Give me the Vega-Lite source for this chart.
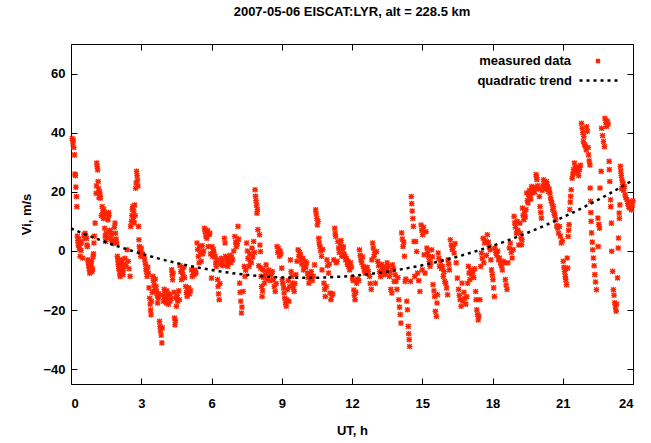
{
  "$schema": "https://vega.github.io/schema/vega-lite/v6.json",
  "width": 562,
  "height": 340,
  "autosize": {"type": "none"},
  "padding": {"left": 71, "top": 44, "right": 18, "bottom": 59},
  "background": "white",
  "config": {
    "font": "Liberation Sans",
    "view": {"stroke": "#000000", "strokeWidth": 1},
    "axis": {
      "domain": false, "grid": false,
      "labelFont": "Liberation Sans", "labelFontSize": 13, "labelFontWeight": "bold", "labelColor": "#000000",
      "titleFont": "Liberation Sans", "titleFontSize": 13, "titleFontWeight": "bold", "titleColor": "#000000",
      "tickColor": "#000000", "tickWidth": 1, "tickSize": -6
    },
    "legend": {"labelFont": "Liberation Sans", "labelFontSize": 13, "labelFontWeight": "bold", "labelColor": "#000000", "labelLimit": 0, "padding": 0, "symbolOffset": 0}
  },
  "title": {"text": "2007-05-06 EISCAT:LYR, alt = 228.5 km", "fontSize": 13, "fontWeight": "bold", "font": "Liberation Sans", "color": "#000000", "anchor": "middle", "offset": 22},
  "datasets": {
    "obs": [
{"t":0.05,"v":38},{"t":0.08,"v":36.5},{"t":0.1,"v":37.5},{"t":0.12,"v":35},{"t":0.15,"v":32.5},{"t":0.17,"v":26},{"t":0.19,"v":25.5},{"t":0.21,"v":21.6},{"t":0.23,"v":18.4},{"t":0.25,"v":15},{"t":0.27,"v":5},{"t":0.29,"v":3.5},{"t":0.31,"v":2},{"t":0.33,"v":4},{"t":0.35,"v":1.2},{"t":0.37,"v":0.5},{"t":0.39,"v":-1.8},{"t":0.41,"v":2.5},{"t":0.43,"v":0.2},{"t":0.45,"v":3},{"t":0.5,"v":-2.4},{"t":0.55,"v":5.5},{"t":0.58,"v":4.5},{"t":0.6,"v":6},{"t":0.63,"v":5},{"t":0.66,"v":4.2},{"t":0.68,"v":2},{"t":0.7,"v":1.5},{"t":0.72,"v":-3},{"t":0.74,"v":-4},{"t":0.76,"v":-5},{"t":0.78,"v":-6},{"t":0.8,"v":-7.5},{"t":0.82,"v":-6.5},{"t":0.84,"v":-4.5},{"t":0.86,"v":-5.5},{"t":0.88,"v":-3.5},{"t":0.9,"v":-7},{"t":0.92,"v":-6},{"t":0.94,"v":-2},{"t":0.96,"v":-1},{"t":0.98,"v":2.7},{"t":1.0,"v":5},{"t":1.03,"v":9.4},
{"t":1.07,"v":19.5},{"t":1.09,"v":22},{"t":1.1,"v":29.7},{"t":1.12,"v":28.5},{"t":1.14,"v":27.4},{"t":1.16,"v":23.5},{"t":1.18,"v":21},{"t":1.2,"v":18},{"t":1.22,"v":20},{"t":1.24,"v":19},{"t":1.26,"v":17.9},{"t":1.3,"v":12},{"t":1.33,"v":15},{"t":1.36,"v":13},{"t":1.38,"v":11},{"t":1.4,"v":14},{"t":1.42,"v":12.5},{"t":1.44,"v":7.7},{"t":1.46,"v":5},{"t":1.48,"v":3.2},{"t":1.5,"v":6},{"t":1.52,"v":4.5},{"t":1.55,"v":11},{"t":1.58,"v":10.5},{"t":1.6,"v":13},{"t":1.62,"v":12},{"t":1.65,"v":7},{"t":1.68,"v":6.5},{"t":1.7,"v":4},{"t":1.72,"v":5.5},{"t":1.75,"v":3.5},{"t":1.8,"v":2.5},{"t":1.85,"v":8},{"t":1.88,"v":9.4},{"t":1.9,"v":6},{"t":1.93,"v":4},{"t":1.96,"v":2.7},{"t":1.98,"v":-1.8},{"t":2.0,"v":-3},
{"t":2.02,"v":-4.5},{"t":2.04,"v":-6},{"t":2.06,"v":-5},{"t":2.08,"v":-7.5},{"t":2.1,"v":-8.6},{"t":2.12,"v":-6.5},{"t":2.14,"v":-4},{"t":2.16,"v":-3},{"t":2.18,"v":-5.5},{"t":2.2,"v":-7},{"t":2.22,"v":-8},{"t":2.24,"v":-6},{"t":2.26,"v":-4.5},{"t":2.3,"v":-2.5},{"t":2.35,"v":-5},{"t":2.4,"v":0.4},{"t":2.44,"v":-3.5},{"t":2.48,"v":-6},{"t":2.52,"v":-8.6},{"t":2.55,"v":8.3},{"t":2.58,"v":10},{"t":2.6,"v":12},{"t":2.62,"v":14},{"t":2.64,"v":15},{"t":2.66,"v":11},{"t":2.68,"v":13.5},{"t":2.7,"v":9.5},{"t":2.72,"v":15.5},{"t":2.74,"v":12},{"t":2.76,"v":21.2},{"t":2.78,"v":23},{"t":2.8,"v":26.9},{"t":2.82,"v":25.5},{"t":2.84,"v":24},{"t":2.86,"v":22},{"t":2.88,"v":8.3},{"t":2.9,"v":3.8},{"t":2.92,"v":1.5},{"t":2.94,"v":0},{"t":2.96,"v":-0.5},{"t":2.98,"v":-1.8},{"t":3.0,"v":1},{"t":3.03,"v":-0.8},{"t":3.06,"v":-1.2},
{"t":3.1,"v":-1.8},{"t":3.15,"v":-3},{"t":3.18,"v":-4.5},{"t":3.2,"v":-6},{"t":3.22,"v":-7},{"t":3.25,"v":-8.6},{"t":3.28,"v":-5.5},{"t":3.3,"v":-7.5},{"t":3.33,"v":-12.5},{"t":3.36,"v":-16},{"t":3.38,"v":-18},{"t":3.4,"v":-20},{"t":3.42,"v":-21.6},{"t":3.44,"v":-17},{"t":3.47,"v":-14},{"t":3.5,"v":-8.6},{"t":3.52,"v":-10},{"t":3.55,"v":-11.5},{"t":3.58,"v":-13},{"t":3.6,"v":-9.5},{"t":3.63,"v":-12},{"t":3.66,"v":-13.7},{"t":3.68,"v":-15},{"t":3.7,"v":-17.6},{"t":3.72,"v":-16},{"t":3.75,"v":-14.5},{"t":3.78,"v":-23.8},{"t":3.8,"v":-25.5},{"t":3.82,"v":-27},{"t":3.85,"v":-28.5},{"t":3.88,"v":-31.1},{"t":3.9,"v":-26},{"t":3.92,"v":-15},{"t":3.95,"v":-17},{"t":3.98,"v":-13},{"t":4.0,"v":-16},{"t":4.03,"v":-14},{"t":4.06,"v":-17.6},{"t":4.08,"v":-15.5},{"t":4.1,"v":-13.5},{"t":4.13,"v":-16.5},{"t":4.16,"v":-18},{"t":4.18,"v":-14.5},
{"t":4.2,"v":-15},{"t":4.23,"v":-17},{"t":4.26,"v":-16},{"t":4.3,"v":-6.4},{"t":4.32,"v":-8},{"t":4.34,"v":-9.7},{"t":4.36,"v":-7.5},{"t":4.4,"v":-14},{"t":4.42,"v":-22.7},{"t":4.44,"v":-25},{"t":4.46,"v":-23.5},{"t":4.48,"v":-16},{"t":4.5,"v":-18.7},{"t":4.53,"v":-15},{"t":4.56,"v":-17},{"t":4.6,"v":-13.5},{"t":4.63,"v":-16.5},{"t":4.66,"v":-5},{"t":4.69,"v":-7},{"t":4.72,"v":-9.7},{"t":4.75,"v":-6.5},{"t":4.78,"v":-8},{"t":4.82,"v":-5.5},{"t":4.85,"v":-9},{"t":4.9,"v":-12},{"t":4.93,"v":-14},{"t":4.96,"v":-15.4},{"t":5.0,"v":-13},{"t":5.03,"v":-12.5},{"t":5.06,"v":-14.5},{"t":5.1,"v":-13.5},
{"t":5.15,"v":-6.4},{"t":5.18,"v":-8.6},{"t":5.22,"v":-7},{"t":5.26,"v":-8},{"t":5.3,"v":-6.5},{"t":5.34,"v":-7.5},{"t":5.38,"v":2.7},{"t":5.41,"v":0.5},{"t":5.44,"v":-1.8},{"t":5.47,"v":-4},{"t":5.5,"v":1.5},{"t":5.53,"v":-0.5},{"t":5.56,"v":-3.5},{"t":5.6,"v":1.8},{"t":5.63,"v":-1},{"t":5.66,"v":0},{"t":5.7,"v":7.7},{"t":5.73,"v":6.5},{"t":5.76,"v":5},{"t":5.8,"v":4.3},{"t":5.83,"v":7},{"t":5.86,"v":1.5},{"t":5.9,"v":5.5},{"t":5.93,"v":6},{"t":5.96,"v":-1},{"t":6.0,"v":-9.2},{"t":6.02,"v":1.5},{"t":6.05,"v":-1.8},{"t":6.08,"v":0.5},{"t":6.1,"v":-0.5},
{"t":6.13,"v":-2},{"t":6.15,"v":-1.8},{"t":6.18,"v":-4},{"t":6.2,"v":-5.2},{"t":6.23,"v":-3},{"t":6.26,"v":-9.7},{"t":6.28,"v":-12},{"t":6.3,"v":-14.5},{"t":6.33,"v":-16.5},{"t":6.36,"v":-11},{"t":6.39,"v":-4.5},{"t":6.42,"v":-2.5},{"t":6.45,"v":-3.5},{"t":6.5,"v":-5},{"t":6.55,"v":4.3},{"t":6.58,"v":2.7},{"t":6.6,"v":-1.8},{"t":6.63,"v":-3},{"t":6.66,"v":-4.5},{"t":6.7,"v":-5.2},{"t":6.73,"v":-2.5},{"t":6.76,"v":-3.8},{"t":6.8,"v":-1.5},{"t":6.83,"v":-4},{"t":6.86,"v":-2},{"t":6.9,"v":-3},{"t":6.95,"v":0},{"t":7.0,"v":4.9},
{"t":7.03,"v":3},{"t":7.06,"v":1.5},{"t":7.1,"v":2.5},{"t":7.13,"v":8.3},{"t":7.16,"v":4},{"t":7.2,"v":-10.9},{"t":7.22,"v":-14},{"t":7.25,"v":-17},{"t":7.28,"v":-21},{"t":7.3,"v":-19},{"t":7.35,"v":-13.7},{"t":7.4,"v":-5.2},{"t":7.43,"v":-8.6},{"t":7.46,"v":-6.5},{"t":7.5,"v":2.7},{"t":7.53,"v":0},{"t":7.56,"v":-2.5},{"t":7.6,"v":-5.2},{"t":7.63,"v":-1},{"t":7.66,"v":-3.5},{"t":7.7,"v":-4},{"t":7.73,"v":1},{"t":7.76,"v":-2},{"t":7.8,"v":3.2},{"t":7.83,"v":-0.5},{"t":7.86,"v":20.7},{"t":7.88,"v":18.5},{"t":7.9,"v":17},{"t":7.92,"v":15.5},{"t":7.94,"v":12.8},{"t":7.96,"v":14},{"t":7.98,"v":7.2},{"t":8.02,"v":-5},{"t":8.05,"v":5.5},{"t":8.07,"v":2},{"t":8.09,"v":-0.2},
{"t":8.1,"v":-5.8},{"t":8.12,"v":-8.6},{"t":8.14,"v":-12},{"t":8.16,"v":-15.4},{"t":8.18,"v":-13.5},{"t":8.2,"v":-6.4},{"t":8.23,"v":-9},{"t":8.26,"v":-10.9},{"t":8.3,"v":-8},{"t":8.33,"v":-4.7},{"t":8.36,"v":-7},{"t":8.4,"v":-9.5},{"t":8.45,"v":-6.5},{"t":8.5,"v":-10},{"t":8.55,"v":-8},{"t":8.6,"v":-7},{"t":8.64,"v":-9.7},{"t":8.68,"v":-12},{"t":8.72,"v":-13.7},{"t":8.76,"v":-11},{"t":8.8,"v":1.5},{"t":8.83,"v":-0.5},{"t":8.86,"v":0.8},{"t":8.9,"v":-1.8},{"t":8.93,"v":0},{"t":8.96,"v":-1},{"t":9.0,"v":-5.8},
{"t":9.02,"v":-9.7},{"t":9.05,"v":-11},{"t":9.08,"v":-12.5},{"t":9.1,"v":-14.2},{"t":9.13,"v":-16},{"t":9.16,"v":-17.5},{"t":9.19,"v":-18.7},{"t":9.22,"v":-16.5},{"t":9.25,"v":-13},{"t":9.28,"v":-10},{"t":9.31,"v":-17},{"t":9.34,"v":-12},{"t":9.37,"v":-3},{"t":9.4,"v":-7},{"t":9.43,"v":-8.6},{"t":9.47,"v":-10.9},{"t":9.5,"v":-12.5},{"t":9.53,"v":-13.7},{"t":9.56,"v":-11},{"t":9.6,"v":-8},{"t":9.65,"v":-3.5},{"t":9.7,"v":0.4},{"t":9.73,"v":-1.8},{"t":9.76,"v":-0.5},{"t":9.8,"v":-1.3},{"t":9.83,"v":-3},{"t":9.86,"v":-4.5},{"t":9.9,"v":-2.5},{"t":9.93,"v":-6.4},{"t":9.96,"v":-5},{"t":10.0,"v":-3.5},
{"t":10.03,"v":-5.5},{"t":10.06,"v":-4},{"t":10.1,"v":-7.5},{"t":10.13,"v":-9},{"t":10.16,"v":-10.9},{"t":10.2,"v":-8},{"t":10.23,"v":-9.5},{"t":10.26,"v":-7},{"t":10.3,"v":-10},{"t":10.35,"v":-8.5},{"t":10.4,"v":-4.7},{"t":10.45,"v":13.9},{"t":10.47,"v":12.5},{"t":10.5,"v":11},{"t":10.52,"v":8.8},{"t":10.55,"v":10},{"t":10.58,"v":4.3},{"t":10.6,"v":2.7},{"t":10.63,"v":1.5},{"t":10.66,"v":0},{"t":10.7,"v":-1.8},{"t":10.72,"v":-6.4},{"t":10.75,"v":0.5},{"t":10.8,"v":-10.9},{"t":10.83,"v":-13},{"t":10.86,"v":-15.4},{"t":10.9,"v":-12},{"t":10.93,"v":-3},{"t":10.96,"v":-5},{"t":11.0,"v":-7.5},
{"t":11.03,"v":-4.5},{"t":11.06,"v":-14.2},{"t":11.1,"v":-16.5},{"t":11.14,"v":-15},{"t":11.18,"v":-14.5},{"t":11.22,"v":-3},{"t":11.26,"v":7.7},{"t":11.28,"v":6},{"t":11.3,"v":4.9},{"t":11.33,"v":-4},{"t":11.36,"v":-3.5},{"t":11.4,"v":3.2},{"t":11.43,"v":1},{"t":11.46,"v":-0.5},{"t":11.5,"v":2},{"t":11.53,"v":3.5},{"t":11.56,"v":-1.8},{"t":11.6,"v":0.5},{"t":11.63,"v":1.5},{"t":11.66,"v":-1},{"t":11.7,"v":-1.8},{"t":11.73,"v":-3},{"t":11.76,"v":-2.5},{"t":11.8,"v":-4.5},{"t":11.83,"v":-3.5},{"t":11.86,"v":-5.2},{"t":11.9,"v":-6.4},{"t":11.94,"v":-4},{"t":11.98,"v":-5.5},
{"t":12.02,"v":-9.2},{"t":12.05,"v":-10},{"t":12.08,"v":-13.2},{"t":12.1,"v":-15},{"t":12.13,"v":-16.5},{"t":12.16,"v":-14},{"t":12.2,"v":-10.9},{"t":12.24,"v":-9.5},{"t":12.28,"v":-10},{"t":12.32,"v":0.4},{"t":12.35,"v":-1.5},{"t":12.38,"v":-3},{"t":12.42,"v":-4},{"t":12.45,"v":-2},{"t":12.48,"v":-5.2},{"t":12.52,"v":-6.5},{"t":12.56,"v":-7.5},{"t":12.6,"v":-6},{"t":12.65,"v":-5.5},{"t":12.7,"v":-7},{"t":12.75,"v":-8.6},{"t":12.78,"v":-11},{"t":12.82,"v":-13},{"t":12.85,"v":-3},{"t":12.88,"v":2.7},{"t":12.91,"v":1},{"t":12.94,"v":-1.8},{"t":12.97,"v":-0.5},{"t":13.0,"v":-10.9},
{"t":13.05,"v":-0.2},{"t":13.1,"v":-3.5},{"t":13.14,"v":-5},{"t":13.18,"v":-7},{"t":13.22,"v":-8.6},{"t":13.26,"v":-4.5},{"t":13.3,"v":-6},{"t":13.34,"v":-7.5},{"t":13.38,"v":-5.5},{"t":13.42,"v":-8},{"t":13.46,"v":-6.5},{"t":13.5,"v":-4},{"t":13.55,"v":-5.2},{"t":13.6,"v":-8.6},{"t":13.63,"v":-7},{"t":13.66,"v":-13},{"t":13.7,"v":-14.2},{"t":13.73,"v":-4.7},{"t":13.77,"v":-6},{"t":13.8,"v":-10.3},{"t":13.84,"v":-8},{"t":13.88,"v":-10.3},{"t":13.92,"v":-13},{"t":13.96,"v":-9},
{"t":14.0,"v":-16.5},{"t":14.03,"v":-19},{"t":14.06,"v":-21.5},{"t":14.09,"v":-24.4},{"t":14.12,"v":6.1},{"t":14.15,"v":4},{"t":14.18,"v":1.5},{"t":14.21,"v":3},{"t":14.24,"v":-1.8},{"t":14.27,"v":-10.3},{"t":14.3,"v":-9.5},{"t":14.34,"v":-17},{"t":14.37,"v":-19.9},{"t":14.4,"v":-25.5},{"t":14.42,"v":-28},{"t":14.44,"v":-30},{"t":14.46,"v":-32.3},{"t":14.5,"v":-10.3},{"t":14.53,"v":18.4},{"t":14.55,"v":16},{"t":14.57,"v":13.5},{"t":14.6,"v":11},{"t":14.62,"v":8.3},{"t":14.65,"v":3.2},{"t":14.68,"v":-8.6},{"t":14.72,"v":3.2},{"t":14.76,"v":-0.2},{"t":14.8,"v":-7.5},{"t":14.85,"v":-10},{"t":14.9,"v":-13.7},{"t":14.95,"v":8.8},{"t":14.98,"v":7},{"t":15.02,"v":5.5},{"t":15.0,"v":-6.4},
{"t":15.06,"v":8},{"t":15.08,"v":-1.3},{"t":15.12,"v":-7.5},{"t":15.16,"v":6.5},{"t":15.2,"v":1},{"t":15.23,"v":-0.5},{"t":15.26,"v":-1.8},{"t":15.3,"v":-3.5},{"t":15.33,"v":-5.2},{"t":15.36,"v":-4},{"t":15.4,"v":0.4},{"t":15.43,"v":-2},{"t":15.46,"v":-11.4},{"t":15.5,"v":-13.5},{"t":15.53,"v":-15.4},{"t":15.56,"v":-20.4},{"t":15.6,"v":-22.1},{"t":15.63,"v":-17.6},{"t":15.65,"v":-14.8},{"t":15.68,"v":-0.7},{"t":15.71,"v":-2.5},{"t":15.74,"v":-5.2},{"t":15.78,"v":-3.5},{"t":15.82,"v":-6},{"t":15.86,"v":-5.2},{"t":15.9,"v":-8.6},{"t":15.93,"v":-7},{"t":15.96,"v":-10.3},{"t":16.0,"v":-10.9},
{"t":16.04,"v":-12.5},{"t":16.08,"v":-14.8},{"t":16.1,"v":-3},{"t":16.13,"v":-4.5},{"t":16.16,"v":-6.4},{"t":16.2,"v":3.8},{"t":16.24,"v":2},{"t":16.28,"v":0.5},{"t":16.32,"v":1.5},{"t":16.36,"v":-0.7},{"t":16.4,"v":2.5},{"t":16.45,"v":-4},{"t":16.5,"v":-9.2},{"t":16.55,"v":-13},{"t":16.58,"v":-15},{"t":16.62,"v":-16.5},{"t":16.66,"v":-18.7},{"t":16.7,"v":-10.9},{"t":16.74,"v":-17},{"t":16.78,"v":-14},{"t":16.82,"v":-16},{"t":16.86,"v":-18},{"t":16.9,"v":-15.5},{"t":16.94,"v":-10.9},{"t":16.97,"v":-5.2},{"t":17.0,"v":-7.5},
{"t":17.04,"v":-9.7},{"t":17.08,"v":-6.5},{"t":17.12,"v":-8},{"t":17.16,"v":-7},{"t":17.2,"v":-9},{"t":17.24,"v":-6},{"t":17.28,"v":-13.7},{"t":17.3,"v":-16.5},{"t":17.33,"v":-19.9},{"t":17.36,"v":-21.5},{"t":17.39,"v":-23.3},{"t":17.42,"v":-22},{"t":17.46,"v":-16.5},{"t":17.5,"v":-5.2},{"t":17.53,"v":-0.7},{"t":17.56,"v":-2.5},{"t":17.6,"v":4.3},{"t":17.63,"v":-4},{"t":17.66,"v":2.7},{"t":17.7,"v":3.5},{"t":17.74,"v":-1.5},{"t":17.78,"v":5.5},{"t":17.82,"v":3},{"t":17.86,"v":1.5},{"t":17.9,"v":0.4},{"t":17.93,"v":-3},{"t":17.96,"v":-6.4},{"t":17.99,"v":-8},
{"t":18.02,"v":-9.7},{"t":18.05,"v":-12.5},{"t":18.08,"v":-15.4},{"t":18.1,"v":1},{"t":18.14,"v":-0.5},{"t":18.18,"v":-1.5},{"t":18.22,"v":0},{"t":18.26,"v":-3},{"t":18.3,"v":-2.4},{"t":18.34,"v":-4},{"t":18.38,"v":-5},{"t":18.42,"v":-6.4},{"t":18.46,"v":-3.5},{"t":18.5,"v":-4},{"t":18.55,"v":-9.7},{"t":18.58,"v":-11.5},{"t":18.62,"v":-13},{"t":18.66,"v":-4},{"t":18.72,"v":1},{"t":18.76,"v":2.7},{"t":18.8,"v":-0.5},{"t":18.84,"v":-2.4},{"t":18.88,"v":0.5},{"t":18.92,"v":11.7},{"t":18.95,"v":9.5},{"t":18.98,"v":8},{"t":19.02,"v":6},{"t":19.05,"v":10},{"t":19.08,"v":7},
{"t":19.12,"v":2},{"t":19.17,"v":9.4},{"t":19.2,"v":6},{"t":19.22,"v":4.3},{"t":19.24,"v":2.1},{"t":19.26,"v":3.8},{"t":19.28,"v":14.5},{"t":19.31,"v":12},{"t":19.34,"v":10.6},{"t":19.37,"v":13},{"t":19.4,"v":11.5},{"t":19.43,"v":14},{"t":19.46,"v":19.6},{"t":19.49,"v":17},{"t":19.52,"v":16.2},{"t":19.55,"v":18.5},{"t":19.58,"v":20.5},{"t":19.61,"v":19},{"t":19.64,"v":17.5},{"t":19.67,"v":21.8},{"t":19.7,"v":20.5},{"t":19.73,"v":19.6},{"t":19.76,"v":21},{"t":19.8,"v":20},{"t":19.83,"v":21.5},{"t":19.86,"v":25.8},{"t":19.88,"v":24.8},{"t":19.9,"v":24.1},{"t":19.93,"v":22},{"t":19.96,"v":21},{"t":20.0,"v":18.4},
{"t":20.03,"v":15},{"t":20.06,"v":13},{"t":20.09,"v":11.1},{"t":20.12,"v":20.5},{"t":20.15,"v":22},{"t":20.18,"v":24.1},{"t":20.21,"v":23},{"t":20.24,"v":22},{"t":20.27,"v":21},{"t":20.3,"v":23.5},{"t":20.33,"v":22.5},{"t":20.36,"v":21.5},{"t":20.39,"v":20.1},{"t":20.42,"v":21},{"t":20.45,"v":19.6},{"t":20.48,"v":18},{"t":20.51,"v":17},{"t":20.54,"v":16},{"t":20.57,"v":14},{"t":20.6,"v":15},{"t":20.63,"v":13},{"t":20.66,"v":12},{"t":20.7,"v":10.5},{"t":20.74,"v":8.5},{"t":20.78,"v":7.7},{"t":20.82,"v":6},{"t":20.86,"v":8.3},{"t":20.9,"v":5},{"t":20.94,"v":2.7},{"t":20.98,"v":3.5},
{"t":21.02,"v":-3.5},{"t":21.05,"v":-5.5},{"t":21.08,"v":-7},{"t":21.11,"v":-8.6},{"t":21.13,"v":-9.7},{"t":21.16,"v":-11.4},{"t":21.19,"v":-2.4},{"t":21.21,"v":-5.8},{"t":21.23,"v":4.9},{"t":21.25,"v":7},{"t":21.27,"v":8.9},{"t":21.3,"v":14},{"t":21.32,"v":16.5},{"t":21.34,"v":18.5},{"t":21.36,"v":20.7},{"t":21.4,"v":24.6},{"t":21.43,"v":26},{"t":21.46,"v":27.5},{"t":21.5,"v":29.7},{"t":21.53,"v":28},{"t":21.56,"v":26.5},{"t":21.6,"v":28.5},{"t":21.64,"v":27},{"t":21.68,"v":25.5},{"t":21.72,"v":27.5},{"t":21.76,"v":29},{"t":21.8,"v":43.2},{"t":21.83,"v":41.5},{"t":21.86,"v":40},{"t":21.88,"v":37},{"t":21.9,"v":38.7},{"t":21.93,"v":36},{"t":21.96,"v":35.5},{"t":22.0,"v":34.2},
{"t":22.02,"v":42},{"t":22.05,"v":40.5},{"t":22.08,"v":35},{"t":22.1,"v":32.5},{"t":22.13,"v":30.5},{"t":22.16,"v":29.1},{"t":22.17,"v":21.3},{"t":22.19,"v":16.8},{"t":22.2,"v":13},{"t":22.21,"v":10},{"t":22.23,"v":6.1},{"t":22.26,"v":3},{"t":22.28,"v":0.4},{"t":22.31,"v":-2.4},{"t":22.34,"v":-5},{"t":22.37,"v":-8},{"t":22.4,"v":-10.5},{"t":22.44,"v":-13.1},{"t":22.5,"v":11.1},{"t":22.51,"v":1.5},{"t":22.54,"v":9},{"t":22.57,"v":7.7},{"t":22.59,"v":21.3},{"t":22.64,"v":26.9},{"t":22.66,"v":41.5},{"t":22.7,"v":39},{"t":22.74,"v":37},{"t":22.78,"v":35.3},{"t":22.8,"v":44.9},{"t":22.84,"v":43.5},{"t":22.87,"v":42.1},{"t":22.9,"v":44},{"t":22.94,"v":43},{"t":22.98,"v":30.3},{"t":22.99,"v":27.5},
{"t":23.01,"v":23.5},{"t":23.04,"v":17.3},{"t":23.05,"v":15},{"t":23.08,"v":9.4},{"t":23.09,"v":-0.1},{"t":23.13,"v":-6.9},{"t":23.16,"v":-13.1},{"t":23.19,"v":-15},{"t":23.22,"v":-17.5},{"t":23.25,"v":-19},{"t":23.28,"v":-20.4},{"t":23.3,"v":-18},{"t":23.34,"v":-9.1},{"t":23.37,"v":1},{"t":23.38,"v":4.4},{"t":23.41,"v":12.8},{"t":23.42,"v":11},{"t":23.44,"v":15.6},{"t":23.46,"v":28.6},{"t":23.48,"v":27},{"t":23.5,"v":25.5},{"t":23.52,"v":21},{"t":23.53,"v":24},{"t":23.56,"v":22.5},{"t":23.58,"v":23},{"t":23.6,"v":20.5},{"t":23.63,"v":21.8},{"t":23.66,"v":19},{"t":23.7,"v":18},{"t":23.74,"v":17.3},{"t":23.78,"v":16},{"t":23.82,"v":15},{"t":23.86,"v":14.5},{"t":23.9,"v":16.5},{"t":23.94,"v":13.9},{"t":23.97,"v":15.5},{"t":24.0,"v":17}
    ],
    "trend": [
{"t":0,"v":7.6},{"t":0.5,"v":5.97},{"t":1,"v":4.42},{"t":1.5,"v":2.95},{"t":2,"v":1.57},{"t":2.5,"v":0.28},{"t":3,"v":-0.94},{"t":3.5,"v":-2.07},{"t":4,"v":-3.11},{"t":4.5,"v":-4.07},{"t":5,"v":-4.95},{"t":5.5,"v":-5.74},{"t":6,"v":-6.45},{"t":6.5,"v":-7.08},{"t":7,"v":-7.62},{"t":7.5,"v":-8.08},{"t":8,"v":-8.45},{"t":8.5,"v":-8.74},{"t":9,"v":-8.94},{"t":9.5,"v":-9.06},{"t":10,"v":-9.1},{"t":10.5,"v":-9.05},{"t":11,"v":-8.92},{"t":11.5,"v":-8.71},{"t":12,"v":-8.41},{"t":12.5,"v":-8.03},{"t":13,"v":-7.56},{"t":13.5,"v":-7.01},{"t":14,"v":-6.37},{"t":14.5,"v":-5.65},{"t":15,"v":-4.85},{"t":15.5,"v":-3.96},{"t":16,"v":-2.99},{"t":16.5,"v":-1.94},{"t":17,"v":-0.8},{"t":17.5,"v":0.43},{"t":18,"v":1.73},{"t":18.5,"v":3.12},{"t":19,"v":4.6},{"t":19.5,"v":6.16},{"t":20,"v":7.8},{"t":20.5,"v":9.53},{"t":21,"v":11.34},{"t":21.5,"v":13.23},{"t":22,"v":15.21},{"t":22.5,"v":17.28},{"t":23,"v":19.42},{"t":23.5,"v":21.65},{"t":24,"v":23.97}
    ]
  },
  "layer": [
    {
      "data": {"name": "obs"},
      "mark": {"type": "point", "shape": "M-1,-1L1,1M-1,1L1,-1M0,-1.2L0,1.2M-1.2,0L1.2,0", "filled": false, "size": 22, "strokeWidth": 1.3, "opacity": 1},
      "encoding": {
        "x": {"field": "t", "type": "quantitative", "scale": {"domain": [0, 24], "nice": false, "zero": false},
              "axis": {"values": [0, 3, 6, 9, 12, 15, 18, 21, 24], "title": "UT, h", "labelPadding": 19, "titlePadding": 14, "format": "d"}},
        "y": {"field": "v", "type": "quantitative", "scale": {"domain": [-45, 70], "nice": false, "zero": false},
              "axis": {"values": [-40, -20, 0, 20, 40, 60], "title": "Vi, m/s", "labelPadding": 12, "titlePadding": 9, "format": "d"}},
        "color": {
          "datum": "measured data", "type": "nominal",
          "scale": {"domain": ["measured data"], "range": ["#ff2200"]},
          "legend": {
            "title": null, "orient": "none", "legendX": 507, "legendY": -3,
            "labelAlign": "right", "labelOffset": -47,
            "symbolType": "M-0.1,-0.1L0.1,0.1M-0.1,0.1L0.1,-0.1M0,-0.12L0,0.12M-0.12,0L0.12,0", "symbolSize": 1444,
            "symbolStrokeWidth": 1.4, "symbolFillColor": "transparent", "symbolStrokeColor": "#ff2200"
          }
        }
      }
    },
    {
      "data": {"name": "trend"},
      "mark": {"type": "line", "strokeWidth": 2.5, "color": "#000000"},
      "encoding": {
        "x": {"field": "t", "type": "quantitative", "axis": {"orient": "top", "values": [0, 3, 6, 9, 12, 15, 18, 21, 24], "labels": false, "title": null}},
        "y": {"field": "v", "type": "quantitative", "axis": {"orient": "right", "values": [-40, -20, 0, 20, 40, 60], "labels": false, "title": null}},
        "strokeDash": {
          "datum": "quadratic trend", "type": "nominal",
          "scale": {"domain": ["quadratic trend"], "range": [[3, 4]]},
          "legend": {
            "title": null, "orient": "none", "legendX": 507, "legendY": 16,
            "labelAlign": "right", "labelOffset": -47,
            "symbolType": "stroke", "symbolSize": 1444, "symbolStrokeWidth": 2.5,
            "symbolStrokeColor": "#000000", "symbolDash": [3, 4]
          }
        }
      }
    }
  ],
  "resolve": {"axis": {"x": "independent", "y": "independent"}}
}
